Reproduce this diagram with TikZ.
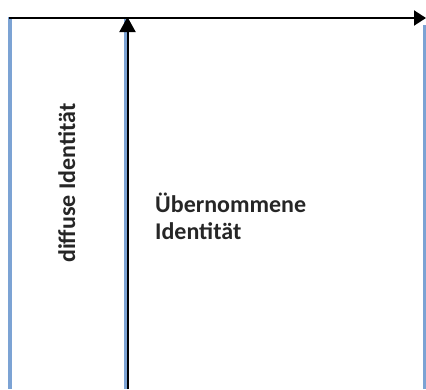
\documentclass[tikz,border=0pt]{standalone}
\usepackage{fontspec}
\setmainfont{Carlito}
\usetikzlibrary{arrows.meta}
\definecolor{axisblue}{RGB}{124,163,212}
\tikzset{
  blueline/.style={draw=axisblue, line width=3.5pt},
  axisarrow/.style={draw=black, line width=2pt, -{Triangle[length=12pt,width=15pt]}},
  uparrow/.style={draw=black, line width=2pt, -{Triangle[length=15pt,width=16pt]}},
  lbl/.style={font=\bfseries\fontsize{24}{27}\selectfont, inner sep=0pt, text=black!85}
}
\begin{document}
\begin{tikzpicture}[x=1pt,y=-1pt]
\useasboundingbox (0,0) rectangle (426,389);
% coordinates
\coordinate (lt) at (10,17);
\coordinate (lb) at (10,389);
\coordinate (mt) at (125.5,17);
\coordinate (mb) at (125.5,389);
\coordinate (at) at (127.5,17);
\coordinate (ab) at (127.5,389);
\coordinate (rt) at (424.5,25);
\coordinate (rb) at (424.5,389);
\coordinate (hl) at (9,18);
\coordinate (ht) at (426,18);
% blue lines
\draw[blueline] (lt) -- (lb);
\draw[blueline] (mt) -- (mb);
\draw[blueline] (rt) -- (rb);
% arrows
\draw[axisarrow] (hl) -- (ht);
\draw[uparrow] (ab) -- (at);
% labels
\node[lbl, anchor=base west, rotate=90] (diff) at (75,263) {diffuse Identität};
\node[lbl, anchor=north west, align=left] (ueb) at (155,193) {Übernommene\\Identität};
\end{tikzpicture}
\end{document}
